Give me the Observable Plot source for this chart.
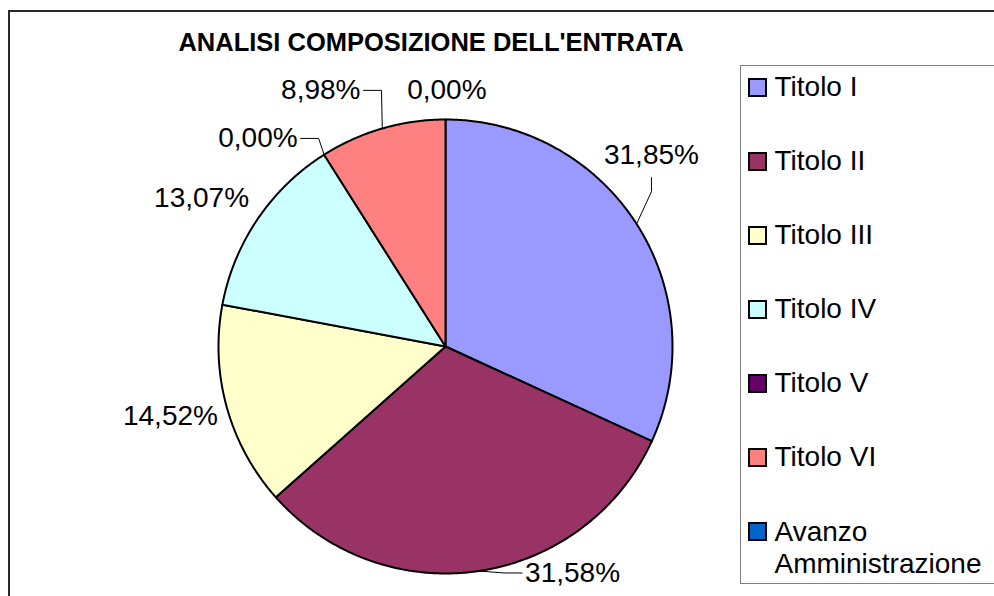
<!DOCTYPE html>
<html><head><meta charset="utf-8">
<script src="https://cdn.jsdelivr.net/npm/d3@7"></script>
<script src="https://cdn.jsdelivr.net/npm/@observablehq/plot@0.6"></script>
<style>
html,body{margin:0;padding:0;background:#fff;overflow:hidden;}
#wrap{position:relative;width:994px;height:596px;overflow:hidden;font-family:"Liberation Sans",Arial,sans-serif;background:#fff;}
#chart{position:absolute;left:0;top:0;}
#frame{position:absolute;left:8px;top:10px;width:1100px;height:700px;border:2px solid #2a2a2a;box-sizing:border-box;pointer-events:none;}
#title{position:absolute;left:0;width:862px;top:30px;text-align:center;font-weight:bold;font-size:25.5px;line-height:25.5px;color:#000;white-space:nowrap;}
#legend{position:absolute;left:740px;top:65px;width:400px;height:519px;border:1.5px solid #808080;background:#fff;box-sizing:border-box;padding-top:5px;}
.item{display:flex;align-items:flex-start;height:74.1px;}
.sw{width:19px;height:19px;margin:6.5px 7.5px 0 7px;flex:none;overflow:visible;}
.lab{font-size:28px;line-height:32px;color:#000;max-width:215px;}
</style>
</head>
<body>
<div id="wrap">
  <div id="chart"></div>
  <div id="frame"></div>
  <div id="title"></div>
  <div id="legend"></div>
</div>
<script>
// ---- data ----
const chartTitle = "ANALISI COMPOSIZIONE DELL'ENTRATA";
const categories = ["Titolo I", "Titolo II", "Titolo III", "Titolo IV", "Titolo V", "Titolo VI", "Avanzo Amministrazione"];
const shares = [31.85, 31.58, 14.52, 13.07, 0.00, 8.98, 0.00];
const colors = ["#9999FF", "#993366", "#FFFFCC", "#CCFFFF", "#660066", "#FF8080", "#0066CC"];

// ---- layout (presentation only) ----
const W = 994, H = 596, cx = 445, cy = 346, R = 227;
const labelFont = 28;
// label placement relative to the slice's mid angle (degrees) and radius (in pie radii)
const labelLayout = {
  "Titolo I": {shift: -10.3, r: 1.24},
  "Titolo II": {shift: -20.8, r: 1.144},
  "Titolo III": {shift: 1.3, r: 1.25},
  "Titolo IV": {shift: -2.9, r: 1.257},
  "Titolo V": {shift: -9.7, r: 1.234},
  "Titolo VI": {shift: -9.8, r: 1.255},
  "Avanzo Amministrazione": {shift: 0.3, r: 1.128}
};

const fmt = v => v.toFixed(2).replace(".", ",") + "%";
const rows = categories.map((c, i) => ({category: c, value: shares[i], text: fmt(shares[i])}));
const arcs = d3.pie().sort(null).value(d => d.value).startAngle(0).endAngle(2 * Math.PI)(rows);

// slice outlines in pie units (radius = 1)
const slicePts = [];
for (const a of arcs) {
  if (a.data.value <= 0) continue;
  const c = a.data.category;
  slicePts.push({category: c, x: 0, y: 0});
  const n = Math.max(2, Math.ceil((a.endAngle - a.startAngle) / (Math.PI / 360)));
  for (let k = 0; k <= n; k++) {
    const t = a.startAngle + (a.endAngle - a.startAngle) * k / n;
    slicePts.push({category: c, x: Math.sin(t), y: Math.cos(t)});
  }
}

// text width measurement
const ctx = document.createElement("canvas").getContext("2d");
ctx.font = `${labelFont}px "Liberation Sans", Arial, sans-serif`;

const toPx = (a, r) => [cx + R * r * Math.sin(a), cy - R * r * Math.cos(a)];
const toData = ([px, py]) => ({x: (px - cx) / R, y: (cy - py) / R});

const labelRows = [];
const leaderPts = [];
for (const a of arcs) {
  const c = a.data.category;
  const lay = labelLayout[c];
  const mid = (a.startAngle + a.endAngle) / 2;
  const la = mid + lay.shift * Math.PI / 180;
  const L = toPx(la, lay.r);
  labelRows.push({category: c, text: a.data.text, ...toData(L)});
  if (Math.abs(lay.shift) > 5) {
    const E = toPx(mid, 1);
    const dx = E[0] - L[0], dy = E[1] - L[1];
    const hw = ctx.measureText(a.data.text).width / 2;
    let attach, elbow;
    if (Math.abs(dy) > Math.abs(dx)) {
      const s = Math.sign(dy);
      attach = [L[0], L[1] + s * 23];
      elbow = [L[0], attach[1] + s * 14];
    } else {
      const s = Math.sign(dx);
      attach = [L[0] + s * (hw + 3), L[1]];
      elbow = [attach[0] + s * 18, L[1]];
    }
    for (const p of [attach, elbow, E]) leaderPts.push({category: c, ...toData(p)});
  }
}

const plot = Plot.plot({
  width: W,
  height: H,
  marginLeft: cx - R,
  marginRight: W - cx - R,
  marginTop: cy - R,
  marginBottom: H - cy - R,
  x: {domain: [-1, 1], axis: null},
  y: {domain: [-1, 1], axis: null},
  color: {domain: categories, range: colors},
  style: {background: "transparent", fontFamily: '"Liberation Sans", Arial, sans-serif', overflow: "visible"},
  marks: [
    Plot.line(slicePts, {x: "x", y: "y", z: "category", fill: "category", stroke: "#000", strokeWidth: 2, strokeLinejoin: "round", curve: "linear-closed"}),
    Plot.line(leaderPts, {x: "x", y: "y", z: "category", stroke: "#000", strokeWidth: 1}),
    Plot.text(labelRows, {x: "x", y: "y", text: "text", fontSize: labelFont, fill: "#000", textAnchor: "middle", lineAnchor: "middle"})
  ]
});
document.getElementById("chart").appendChild(plot);

document.getElementById("title").textContent = chartTitle;

const colorScale = plot.scale("color");
const legend = d3.select("#legend");
for (const c of categories) {
  const item = legend.append("div").attr("class", "item");
  const sw = item.append("svg").attr("class", "sw").attr("width", 19).attr("height", 19);
  sw.append("rect").attr("x", 1).attr("y", 1).attr("width", 17).attr("height", 17)
    .attr("fill", colorScale.apply(c)).attr("stroke", "#000").attr("stroke-width", 2);
  item.append("div").attr("class", "lab").text(c);
}
</script>
</body></html>
